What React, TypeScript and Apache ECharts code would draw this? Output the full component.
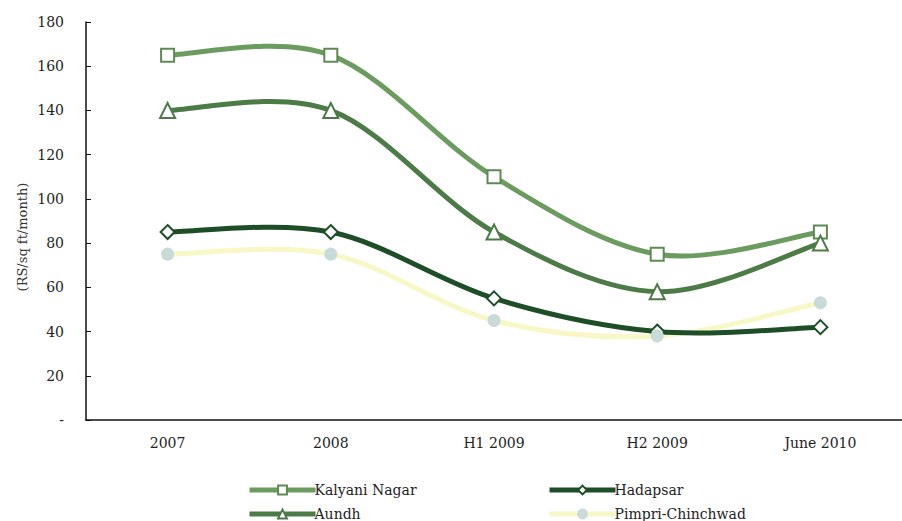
import React, { useEffect, useRef } from "react";
import * as echarts from "echarts";

const categories = ["2007", "2008", "H1 2009", "H2 2009", "June 2010"];
const kalyaniNagar = [165, 165, 110, 75, 85];
const aundh = [140, 140, 85, 58, 80];
const hadapsar = [85, 85, 55, 40, 42];
const pimpriChinchwad = [75, 75, 45, 38, 53];

const FONT = "DejaVu Serif";

type SeriesDef = {
  name: string;
  data: number[];
  color: string;
  symbol: string;
  size: number;
  fill: string;
  border: string;
};

const defs: SeriesDef[] = [
  { name: "Kalyani Nagar", data: kalyaniNagar, color: "#6c9b60", symbol: "rect", size: 13, fill: "#ffffff", border: "#5c8a52" },
  { name: "Aundh", data: aundh, color: "#4c7b47", symbol: "triangle", size: 15, fill: "#ffffff", border: "#4c7b47" },
  { name: "Hadapsar", data: hadapsar, color: "#1e4e27", symbol: "diamond", size: 14, fill: "#ffffff", border: "#1e4e27" },
  { name: "Pimpri-Chinchwad", data: pimpriChinchwad, color: "#f8f7c6", symbol: "circle", size: 11, fill: "#c9dbd8", border: "#c9dbd8" },
];

function smoothPath(pts: number[][], t: number) {
  let d = `M${pts[0][0]},${pts[0][1]}`;
  for (let i = 0; i < pts.length - 1; i++) {
    const p0 = pts[i - 1] || pts[i];
    const p1 = pts[i];
    const p2 = pts[i + 1];
    const p3 = pts[i + 2] || pts[i + 1];
    const c1x = p1[0] + (p2[0] - p0[0]) * t;
    const c1y = p1[1] + (p2[1] - p0[1]) * t;
    const c2x = p2[0] - (p3[0] - p1[0]) * t;
    const c2y = p2[1] - (p3[1] - p1[1]) * t;
    d += ` C${c1x},${c1y} ${c2x},${c2y} ${p2[0]},${p2[1]}`;
  }
  return d;
}

export default function App() {
  const ref = useRef<HTMLDivElement>(null);
  useEffect(() => {
    const chart = echarts.init(ref.current!, null, { renderer: "svg" });
    const curveSeries = defs.map((s, k) => ({
      name: s.name + " curve",
      type: "custom",
      silent: true,
      z: k === 3 ? 1 : 2,
      data: s.data.map((v, i) => [i, v]),
      renderItem: (params: any, api: any) => {
        if (params.dataIndex !== 0) return null;
        const pts = s.data.map((v, i) => api.coord([i, v]));
        return {
          type: "path",
          shape: { pathData: smoothPath(pts, 1 / 6) },
          style: { stroke: s.color, lineWidth: 5, fill: "none", lineJoin: "round", lineCap: "round" },
        };
      },
    }));
    const markerSeries = defs.map((s) => ({
      name: s.name,
      type: "line",
      data: s.data,
      symbol: s.symbol,
      symbolSize: s.size,
      showAllSymbol: true,
      lineStyle: { color: s.color, width: 5, opacity: 0 },
      itemStyle: { color: s.fill, borderColor: s.border, borderWidth: 2 },
      z: 3,
    }));
    const legendItem = (s: SeriesDef) => ({
      name: s.name,
      lineStyle: { color: s.color, width: 5, opacity: 1, cap: "butt" },
    });
    const legendBase = {
      orient: "vertical",
      top: 483,
      itemWidth: 66,
      itemHeight: 11,
      itemGap: 10,
      padding: 0,
      textStyle: { fontFamily: FONT, fontSize: 14, color: "#222", padding: [0, 0, 0, -6] },
    };
    chart.setOption({
      animation: false,
      backgroundColor: "#ffffff",
      grid: { left: 86, top: 22, width: 825, height: 398 },
      xAxis: {
        type: "category",
        data: categories,
        boundaryGap: true,
        axisLine: { lineStyle: { color: "#111", width: 1.5 } },
        axisTick: { inside: true, length: 5, lineStyle: { color: "#111" } },
        axisLabel: { fontFamily: FONT, fontSize: 14, color: "#222", margin: 16 },
      },
      yAxis: {
        type: "value",
        min: 0,
        max: 180,
        interval: 20,
        axisLine: { show: true, lineStyle: { color: "#111", width: 1.5 } },
        axisTick: { show: true, inside: true, length: 5, lineStyle: { color: "#111" } },
        splitLine: { show: false },
        axisLabel: {
          fontFamily: FONT,
          fontSize: 14,
          color: "#222",
          margin: 22,
          formatter: (v: number) => (v === 0 ? "-" : String(v)),
        },
      },
      graphic: [
        {
          type: "text",
          x: 22,
          y: 237,
          rotation: Math.PI / 2,
          style: {
            text: "(RS/sq ft/month)",
            fontFamily: FONT,
            fontSize: 13,
            fill: "#333",
            align: "center",
            verticalAlign: "middle",
          },
        },
      ],
      legend: [
        { ...legendBase, left: 247, data: [legendItem(defs[0]), legendItem(defs[1])] },
        { ...legendBase, left: 547, data: [legendItem(defs[2]), legendItem(defs[3])] },
      ],
      series: [...curveSeries, ...markerSeries],
    });
    return () => chart.dispose();
  }, []);
  return (
    <div
      ref={ref}
      style={{ position: "fixed", left: 0, top: 0, width: 902, height: 521 }}
    />
  );
}
